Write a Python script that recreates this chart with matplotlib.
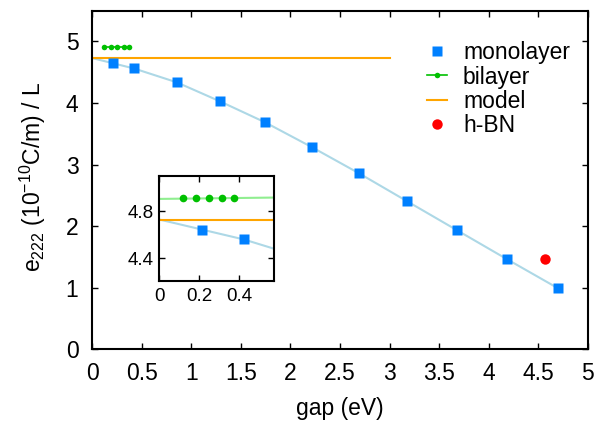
import matplotlib
matplotlib.use("Agg")
import matplotlib.pyplot as plt

plt.rcParams['font.family'] = ['Liberation Sans', 'DejaVu Sans']
plt.rcParams['mathtext.fontset'] = 'custom'
plt.rcParams['mathtext.rm'] = 'Liberation Sans'
plt.rcParams['mathtext.it'] = 'Liberation Sans:italic'

# monolayer results
mono_gap = [0.212, 0.424, 0.855, 1.292, 1.746, 2.22, 2.694, 3.179, 3.683, 4.188, 4.702]
mono_e = [4.643, 4.562, 4.334, 4.026, 3.685, 3.279, 2.857, 2.403, 1.932, 1.461, 0.990]

# smooth fit through the monolayer points
fit_gap = [0.0, 0.212, 0.424, 0.855, 1.292, 1.746, 2.22, 2.694, 3.179, 3.683, 4.188, 4.702]
fit_e = [4.73, 4.645, 4.56, 4.335, 4.025, 3.685, 3.28, 2.857, 2.403, 1.932, 1.461, 0.990]

# bilayer results
bi_gap = [0.12, 0.185, 0.25, 0.315, 0.375]
bi_e = [4.91, 4.91, 4.91, 4.91, 4.91]
bi_fit_gap = [0.0, 0.6]
bi_fit_e = [4.905, 4.917]

# model value
model_gap = [0.0, 3.0]
model_e = [4.725, 4.725]

# h-BN
hbn_gap = [4.57]
hbn_e = [1.461]

blue = '#0080ff'
green = '#00c000'
orange = '#ffa500'
fs = 16.5

fig = plt.figure(figsize=(5.97, 4.21), dpi=100)
ax = fig.add_axes([0.1546, 0.1703, 0.8298, 0.8043])

ax.plot(fit_gap, fit_e, color='lightblue', lw=1.5, zorder=1)
ax.plot(model_gap, model_e, color=orange, lw=1.5, label='model', zorder=2)
ax.plot(mono_gap, mono_e, 's', color=blue, ms=6.8, mec='none', label='monolayer', zorder=3)
ax.plot(bi_gap, bi_e, '-o', color=green, lw=1.2, ms=4, mec='none', label='bilayer', zorder=3)
ax.plot(hbn_gap, hbn_e, 'o', color='red', ms=7.5, mec='none', label='h-BN', zorder=3)

ax.set_xlim(0, 5)
ax.set_ylim(0, 5.5)
ax.set_xticks([0, 0.5, 1, 1.5, 2, 2.5, 3, 3.5, 4, 4.5, 5])
ax.set_xticklabels(['0', '0.5', '1', '1.5', '2', '2.5', '3', '3.5', '4', '4.5', '5'])
ax.set_yticks([0, 1, 2, 3, 4, 5])
ax.tick_params(direction='in', top=True, right=True, labelsize=fs, length=4, width=1)
ax.tick_params(axis='x', pad=9)
ax.tick_params(axis='y', pad=10)
for s in ax.spines.values():
    s.set_linewidth(1.5)
ax.set_xlabel('gap (eV)', fontsize=fs, labelpad=9)
ax.set_ylabel(r'e$_{222}$ (10$^{-10}$C/m) / L', fontsize=fs)
ax.yaxis.set_label_coords(-0.089, 0.51)

h, l = ax.get_legend_handles_labels()
order = [l.index(k) for k in ['monolayer', 'bilayer', 'model', 'h-BN']]
ax.legend([h[i] for i in order], [l[i] for i in order], loc='upper right',
          bbox_to_anchor=(0.992, 0.95), frameon=False, fontsize=fs,
          handlelength=0.85, handletextpad=0.7, labelspacing=0.05,
          borderaxespad=0.2)

# inset around small gaps
ins = fig.add_axes([0.2668, 0.3333, 0.1926, 0.2487])
ins.plot(fit_gap, fit_e, color='lightblue', lw=1.5, zorder=1)
ins.plot(bi_fit_gap, bi_fit_e, color='lightgreen', lw=1.5, zorder=1)
ins.plot(model_gap, model_e, color=orange, lw=1.5, zorder=2)
ins.plot(mono_gap, mono_e, 's', color=blue, ms=7, mec='none', zorder=3)
ins.plot(bi_gap, bi_e, 'o', color=green, ms=5.5, mec='none', zorder=3)
ins.set_xlim(0, 0.575)
ins.set_ylim(4.21, 5.1)
ins.set_xticks([0, 0.2, 0.4])
ins.set_xticklabels(['0', '0.2', '0.4'])
ins.set_yticks([4.4, 4.8])
ins.tick_params(direction='in', top=True, right=True, labelsize=13.5, length=4, width=1)
ins.tick_params(axis='x', pad=5)
ins.tick_params(axis='y', pad=4)
for s in ins.spines.values():
    s.set_linewidth(1.5)

fig.savefig('out.png', dpi=100)
